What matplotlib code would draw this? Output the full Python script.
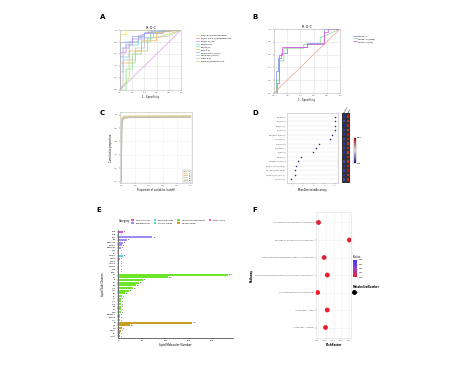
import matplotlib
matplotlib.use("Agg")
import matplotlib.pyplot as plt
import numpy as np
from matplotlib.colors import LinearSegmentedColormap, Normalize
from matplotlib.lines import Line2D
from matplotlib.patches import Patch
import matplotlib.cm as cm

plt.rcParams['font.family'] = ['DejaVu Sans']
plt.rcParams['font.size'] = 2

# ---------------- DATA ----------------
# Panel A: ROC of single lipids
rocA_names = ["LPC(18:0)/Sphingosine", "PC(16:0/18:1)/Sphingosine", "PE(38:4)/LPC", "SM(d36:1)",
              "TG(52:3)", "PC(34:2)", "PE(18:0/20:4)/Cer", "Cer(d18:1/24:0)", "LPE(18:0)", "PI(38:4)/Sphingosine"]
rocA_fpr = [
    [0, 0, 0.1, 0.1, 1],
    [0, 0, 0.05, 0.05, 0.15, 0.15, 0.3, 0.3, 0.6, 1],
    [0, 0, 0.1, 0.1, 0.2, 0.2, 0.4, 0.4, 1],
    [0, 0, 0.05, 0.05, 0.15, 0.15, 0.3, 0.3, 0.5, 1],
    [0, 0.1, 0.1, 0.2, 0.2, 0.35, 0.35, 0.5, 0.5, 1],
    [0, 0.15, 0.15, 0.25, 0.25, 0.45, 0.45, 0.7, 1],
    [0, 0, 0.2, 0.2, 0.4, 0.4, 0.7, 0.7, 1],
    [0, 0, 0.1, 0.1, 0.3, 0.3, 0.55, 0.55, 1],
    [0, 0.05, 0.05, 0.25, 0.25, 0.4, 0.4, 0.8, 1],
    [0, 0, 0.15, 0.15, 0.35, 0.35, 0.6, 0.6, 1],
]
rocA_tpr = [
    [0, 0.93, 0.93, 1, 1],
    [0, 0.55, 0.55, 0.7, 0.7, 0.8, 0.8, 0.9, 1, 1],
    [0, 0.62, 0.62, 0.75, 0.75, 0.85, 0.85, 0.95, 1],
    [0, 0.3, 0.3, 0.55, 0.55, 0.75, 0.75, 0.85, 1, 1],
    [0, 0, 0.35, 0.35, 0.6, 0.6, 0.8, 0.8, 0.95, 1],
    [0, 0.2, 0.45, 0.45, 0.65, 0.65, 0.85, 0.9, 1],
    [0, 0.8, 0.8, 0.9, 0.9, 0.95, 0.95, 1, 1],
    [0, 0.7, 0.7, 0.8, 0.8, 0.88, 0.88, 0.97, 1],
    [0, 0.1, 0.5, 0.5, 0.7, 0.7, 0.85, 0.9, 1],
    [0, 0.45, 0.45, 0.65, 0.65, 0.82, 0.82, 0.95, 1],
]
rocA_colors = ["#f2e36b", "#f07dc8", "#c77de8", "#5fdede", "#7fe07f",
               "#b9e05a", "#9a9cf2", "#8ec8f0", "#c0c0c0", "#f2b36b"]

# Panel B: ROC of combined models
rocB_names = ["Model 1", "Model 2 (lipid)", "Model 3 (RF)"]
rocB_fpr = [
    [0, 0.03, 0.03, 0.06, 0.06, 0.1, 0.1, 0.2, 0.2, 0.5, 0.5, 0.75, 0.75, 1],
    [0, 0.04, 0.04, 0.08, 0.08, 0.15, 0.15, 0.45, 0.45, 0.7, 0.7, 1],
    [0, 0.05, 0.05, 0.08, 0.08, 0.12, 0.12, 0.5, 0.5, 0.75, 0.75, 0.82, 0.82, 1],
]
rocB_tpr = [
    [0, 0, 0.35, 0.35, 0.55, 0.55, 0.62, 0.62, 0.72, 0.72, 0.78, 0.78, 1, 1],
    [0, 0, 0.2, 0.2, 0.5, 0.5, 0.7, 0.7, 0.76, 0.76, 0.86, 1],
    [0, 0, 0.15, 0.15, 0.6, 0.6, 0.72, 0.72, 0.76, 0.76, 0.95, 0.95, 1, 1],
]
rocB_colors = ["#6f86e8", "#7fd48a", "#e04ed8"]

# Panel C: cumulative curves
cumC_names = ["1", "2", "3", "4", "5"]
cumC_x = [0, 0.005, 0.01, 0.03, 0.1, 1.0]
cumC_y = [
    [0, 0.85, 0.95, 0.97, 0.975, 0.98],
    [0, 0.80, 0.93, 0.96, 0.97, 0.975],
    [0, 0.75, 0.90, 0.95, 0.965, 0.97],
    [0, 0.88, 0.96, 0.975, 0.98, 0.985],
    [0, 0.70, 0.88, 0.94, 0.955, 0.96],
]
cumC_colors = ["#e8c98a", "#d9b77a", "#c8c8a8", "#f0d8a0", "#b8b8b8"]

# Panel D: variable importance
impD_names = ["PE(38:4)", "PC(34:1)", "TG(52:3)", "PC(36:2)", "Cer(d18:1/24:0)", "LPC(18:0)",
              "LPE(18:0)", "SM(d36:1)", "PI(38:4)", "PE(36:2)", "Cer(d18:1/16:0)",
              "TG(54:4)/PC(34:2)", "DG(36:2)/PE(38:6)", "PS(36:1)/PC(38:4)", "LPC(16:0)"]
impD_values = [5.0, 5.0, 5.0, 5.0, 4.75, 4.5, 3.55, 3.2, 2.9, 1.8, 1.5, 1.35, 1.25, 1.25, 0.85]
heatD_groups = ["Control", "Case"]
heatD_values = [[-0.9, 0.9], [-0.8, 0.85], [-0.95, 0.9], [-0.85, 0.8], [-0.9, 0.95],
                [-0.8, 0.9], [-0.9, 0.85], [-0.85, 0.9], [-0.9, 0.8], [-0.95, 0.9],
                [-0.8, 0.85], [-0.9, 0.9], [-0.85, 0.95], [-0.9, 0.85], [-0.8, 0.9]]

# Panel E: lipid subclasses
catE_names = ["Sterol Lipids", "Sphingolipids", "Saccharolipids", "Prenol Lipids",
              "Glycerophospholipids", "Glycerolipids", "Fatty Acyls"]
catE_colors = ["#e64ce6", "#9a8cf0", "#5ad2f0", "#4de0a0", "#6ee628", "#c8a020", "#f0607a"]
subE_names = [["ChE", "ZyE"],
              ["Cer", "SM", "Hex1Cer", "CerG1", "Hex2Cer", "SPH", "So"],
              ["MGDG", "DGDG", "SQDG", "MGMG", "DGMG"],
              ["CoQ", "VitE"],
              ["PC", "PE", "PI", "PS", "PG", "LPC", "LPE", "PA", "CL", "LPI", "LPS", "LPG",
               "PIP", "PEt", "PMe", "BisMePA", "dMePE", "LPA"],
              ["TG", "DG", "MG", "DGTS"],
              ["FA", "AcCa"]]
subE_counts = [[8, 1],
               [72, 17, 8, 6, 5, 1, 1],
               [8, 2, 1, 1, 1],
               [1, 1],
               [234, 106, 52, 43, 37, 30, 22, 12, 6, 5, 5, 5, 4, 4, 4, 3, 3, 2],
               [156, 24, 6, 4],
               [3, 2]]

# Panel F: pathway enrichment
pathF_names = ["Retrograde endocannabinoid signaling",
               "Pathogenic Escherichia coli infection",
               "Kaposi sarcoma-associated herpesvirus infection",
               "Glycosylphosphatidylinositol (GPI)-anchor biosynthesis",
               "Glycerophospholipid metabolism",
               "Autophagy - other",
               "Autophagy - animal"]
pathF_rich = [0.056, 0.25, 0.091, 0.111, 0.05, 0.111, 0.1]
pathF_pval = [0.012, 0.010, 0.013, 0.011, 0.010, 0.011, 0.012]
pathF_num = [1, 1, 1, 1, 1, 1, 1]

# ---------------- FIGURE ----------------
W, H = 474, 366
fig = plt.figure(figsize=(W / 100, H / 100), dpi=100)
fig.patch.set_facecolor("white")


def add_ax(l, t, r, b):
    return fig.add_axes([l / W, 1 - b / H, (r - l) / W, (b - t) / H])


def plabel(x, y, s):
    fig.text(x / W, 1 - y / H, s, fontsize=5, fontweight="bold", ha="left", va="center")


def style_box(ax, col="#bbbbbb"):
    for sp in ax.spines.values():
        sp.set_color(col)
        sp.set_linewidth(0.4)
    ax.tick_params(length=0.8, width=0.3, pad=0.8, labelsize=1.6, colors="#555555")


# ---- A ----
plabel(100, 17, "A")
axA = add_ax(120, 30, 181, 90)
for n, fx, ty, c in zip(rocA_names, rocA_fpr, rocA_tpr, rocA_colors):
    axA.plot(fx, ty, color=c, lw=0.5, label=n)
axA.plot([0, 1], [0, 1], color="#d9a0e0", lw=0.5)
axA.set_xlim(0, 1); axA.set_ylim(0, 1)
axA.set_xticks(np.linspace(0, 1, 6)); axA.set_yticks(np.linspace(0, 1, 6))
axA.grid(color="#e4e4e4", lw=0.4)
style_box(axA)
axA.set_title("R O C", fontsize=2.5, pad=1)
axA.set_xlabel("1 - Specificity", fontsize=1.8, labelpad=1)
axA.legend(loc="upper left", bbox_to_anchor=(1.22, 0.95), frameon=False, fontsize=1.7,
           handlelength=1.5, labelspacing=0.3, borderpad=0)

# ---- B ----
plabel(252, 17, "B")
axB = add_ax(274, 29, 340, 93)
for n, fx, ty, c in zip(rocB_names, rocB_fpr, rocB_tpr, rocB_colors):
    axB.plot(fx, ty, color=c, lw=0.5, label=n)
axB.plot([0, 1], [0, 1], color="#f0a090", lw=0.5)
axB.set_xlim(0, 1); axB.set_ylim(0, 1)
axB.set_xticks(np.linspace(0, 1, 6)); axB.set_yticks(np.linspace(0, 1, 6))
axB.grid(color="#e4e4e4", lw=0.4)
style_box(axB)
axB.set_title("R O C", fontsize=2.5, pad=1)
axB.set_xlabel("1 - Specificity", fontsize=1.8, labelpad=1)
axB.legend(loc="upper left", bbox_to_anchor=(1.18, 0.92), frameon=False, fontsize=1.7,
           handlelength=1.5, labelspacing=0.3, borderpad=0)

# ---- C ----
plabel(100, 113, "C")
axC = add_ax(120, 112, 192, 183)
for n, ys, c in zip(cumC_names, cumC_y, cumC_colors):
    axC.plot(cumC_x, ys, color=c, lw=0.6, label=n)
axC.set_xlim(-0.02, 1.02); axC.set_ylim(-0.02, 1.04)
axC.set_xticks(np.linspace(0, 1, 6)); axC.set_yticks(np.linspace(0, 1, 6))
axC.grid(color="#f0f0f0", lw=0.4)
style_box(axC)
axC.set_xlabel("Proportion of variables (cutoff)", fontsize=1.8, labelpad=1)
axC.set_ylabel("Cumulative proportion", fontsize=1.8, labelpad=1)
lgC = axC.legend(loc="lower right", fontsize=1.5, ncol=1, frameon=True, handlelength=1.5,
                 labelspacing=0.2, borderpad=0.4, title="cut  n", title_fontsize=1.5)
lgC.get_frame().set_linewidth(0.3)
lgC.get_frame().set_edgecolor("#888888")

# ---- D ----
plabel(252, 113, "D")
axD = add_ax(287, 113, 338, 183)
ypos = np.arange(len(impD_names))[::-1]
for y in ypos:
    axD.axhline(y, color="#cccccc", lw=0.3, ls=(0, (1, 1)))
axD.scatter(impD_values, ypos, s=1.2, color="#2a2a8a", zorder=3, linewidths=0)
axD.set_yticks(ypos); axD.set_yticklabels(impD_names)
axD.set_ylim(-0.8, len(impD_names) - 0.2)
axD.set_xlim(0.5, 5.3)
axD.set_xticks([1, 2, 3, 4, 5])
style_box(axD)
axD.tick_params(axis="y", length=0)
axD.set_xlabel("MeanDecreaseAccuracy", fontsize=1.8, labelpad=1)

axDh = add_ax(342, 113, 350, 183)
cmapD = LinearSegmentedColormap.from_list("bwr2", ["#1a1aa0", "#ffffff", "#c01010"])
hv = np.array(heatD_values)[::-1]
axDh.pcolormesh(np.arange(3) - 0.5, np.arange(len(impD_names) + 1) - 0.5, hv,
                cmap=cmapD, vmin=-1, vmax=1, edgecolors="#333333", linewidth=0.3)
axDh.set_ylim(-0.8, len(impD_names) - 0.2)
axDh.set_xlim(-0.5, 1.5)
axDh.axis("off")
for i, g in enumerate(heatD_groups):
    axDh.text(i, len(impD_names) - 0.1, g, rotation=60, fontsize=1.6, ha="left", va="bottom")
caxD = add_ax(354, 138, 356, 163)
cbD = fig.colorbar(cm.ScalarMappable(Normalize(-1, 1), cmapD), cax=caxD)
cbD.set_ticks([-1, 1]); cbD.set_ticklabels(["Low", "High"])
cbD.ax.tick_params(labelsize=1.5, length=0, pad=0.5)
cbD.outline.set_linewidth(0.2)

# ---- E ----
plabel(96, 210, "E")
axE = add_ax(118, 230, 233, 338)
labels, counts, colors = [], [], []
for cn, col, ns, cs in zip(catE_names, catE_colors, subE_names, subE_counts):
    labels += ns; counts += cs; colors += [col] * len(ns)
yE = np.arange(len(labels))[::-1]
axE.barh(yE, counts, color=colors, height=0.75)
for y, v in zip(yE, counts):
    axE.text(v + 2, y, str(v), fontsize=1.4, va="center", ha="left")
axE.set_yticks(yE); axE.set_yticklabels(labels)
axE.set_ylim(-0.7, len(labels) - 0.3)
axE.set_xlim(-2, 245)
axE.set_xticks([0, 50, 100, 150, 200])
for s in ["top", "right"]:
    axE.spines[s].set_visible(False)
for s in ["left", "bottom"]:
    axE.spines[s].set_linewidth(0.4)
axE.tick_params(length=0.8, width=0.3, pad=0.8, labelsize=1.5)
axE.set_xlabel("Lipid Molecular Number", fontsize=2, labelpad=1)
axE.set_ylabel("Lipid Sub Classes", fontsize=2, labelpad=1)
handles = [Patch(facecolor=c, edgecolor="none", label=n) for n, c in zip(catE_names, catE_colors)]
fig.legend(handles=handles, loc="center left", bbox_to_anchor=(130 / W, 1 - 221.5 / H), ncol=4,
           frameon=False, fontsize=1.6, handlelength=1.2, handleheight=1.2, columnspacing=1.5,
           labelspacing=0.3, borderpad=0)
fig.text(119 / W, 1 - 221.5 / H, "Category", fontsize=1.8, va="center", ha="left")

# ---- F ----
plabel(252, 210, "F")
axF = add_ax(316, 212, 351, 338)
cmapF = LinearSegmentedColormap.from_list("rb", ["#ee1c25", "#9a3fd0", "#3b3bf5"])
yF = np.arange(len(pathF_names))[::-1]
axF.scatter(pathF_rich, yF, c=pathF_pval, cmap=cmapF, vmin=0.01, vmax=0.05,
            s=[12 * n for n in pathF_num], zorder=3, linewidths=0)
axF.set_yticks(yF); axF.set_yticklabels(pathF_names)
axF.set_ylim(-0.6, len(pathF_names) - 0.4)
axF.set_xlim(0.04, 0.26)
axF.set_xticks([0.05, 0.10, 0.15, 0.20, 0.25])
axF.set_xticklabels(["0.05", "0.10", "0.15", "0.20", "0.25"])
axF.grid(color="#f0f0f0", lw=0.4)
style_box(axF, "#dddddd")
axF.tick_params(labelsize=1.5)
axF.set_xlabel("RichFactor", fontsize=2, fontweight="bold", labelpad=1)
axF.set_ylabel("Pathway", fontsize=2, fontweight="bold", labelpad=1)
caxF = add_ax(353, 260, 357, 277)
cbF = fig.colorbar(cm.ScalarMappable(Normalize(0.01, 0.05), cmapF), cax=caxF)
cbF.set_ticks([0.01, 0.02, 0.03, 0.04, 0.05])
cbF.ax.tick_params(labelsize=1.4, length=0.5, width=0.2, pad=0.5)
cbF.outline.set_linewidth(0)
fig.text(353 / W, 1 - 257 / H, "Pvalue", fontsize=1.8, va="center", ha="left")
fig.text(353 / W, 1 - 287 / H, "MetaboliteNumber", fontsize=1.8, fontweight="bold",
         va="center", ha="left")
fig.legend(handles=[Line2D([], [], marker="o", ls="", color="black", markersize=2.5, label="1")],
           loc="center left", bbox_to_anchor=(352 / W, 1 - 292 / H), frameon=False, fontsize=1.6,
           handlelength=1, borderpad=0)

fig.savefig("out.png", dpi=100, facecolor="white")
